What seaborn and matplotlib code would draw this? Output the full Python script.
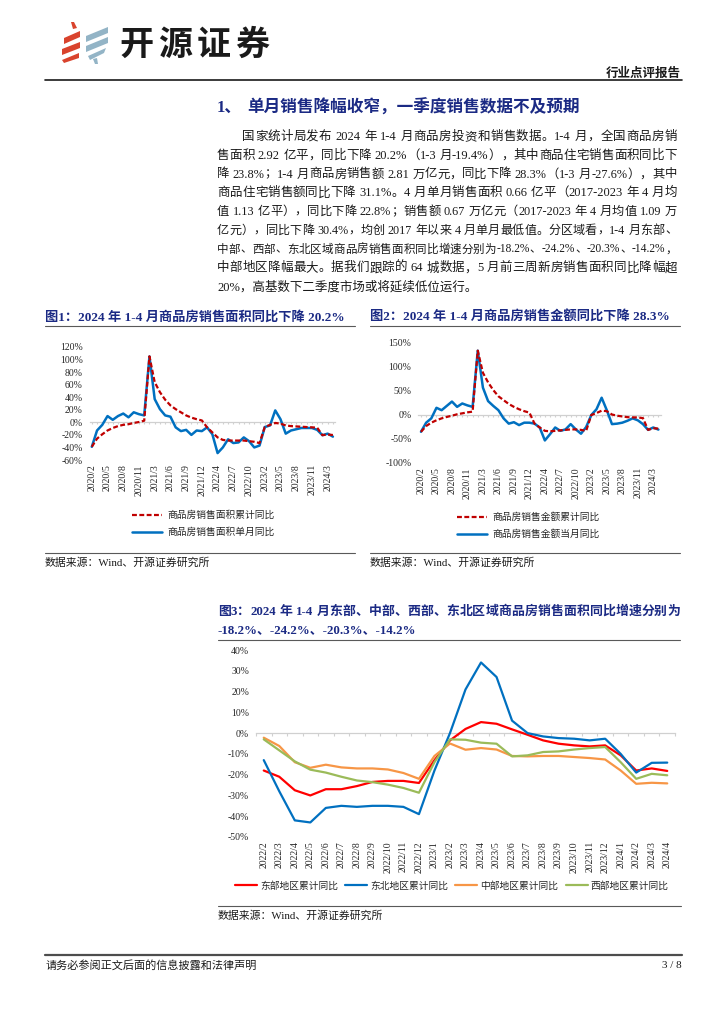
import re

import matplotlib
matplotlib.use("Agg")
import matplotlib.pyplot as plt
import seaborn as sns
from matplotlib.lines import Line2D
from matplotlib.patches import Polygon

W, H = 724, 1024

# ---------------- data ----------------
# fig 1 / fig 2: monthly, Feb-Dec each year (Jan merged into Feb)
months_a = [f"{y}/{m}" for y in (2020, 2021, 2022, 2023) for m in range(2, 13)] + ["2024/2", "2024/3", "2024/4"]

area_cum = [-39, -26, -19, -13, -9, -6, -4, -3, -1, 0.5, 2.6,
            105, 64, 48, 36, 27, 21, 16, 11, 7.5, 5, 3,
            -8, -16, -24, -28, -29, -29, -29, -29, -30, -31, -33,
            -7.5, -4, -1, -2, -5, -6, -6.5, -7, -7.5, -8, -8.5,
            -20.5, -19.4, -20.2]
area_month = [-39, -13, -4, 10, 4, 10, 14, 8, 16, 13, 11,
              105, 37, 21, 11, 9, -8, -14, -12, -20, -13, -14,
              -8, -19, -49, -40, -27, -33, -32, -24, -30, -40, -37,
              -7.5, -5, 19, 5, -18, -13, -11, -9, -9, -9, -12,
              -20.5, -18, -22.8]

amount_cum = [-35, -23, -16, -11, -7, -4, -1.5, 1.5, 3.5, 5.5, 7,
              134, 88, 68, 52, 39, 31, 23, 17, 12, 8, 5,
              -18, -26, -33, -34, -33, -32, -31, -30, -30, -31, -33,
              0, 4, 9, 8, 1, -1.5, -3, -4.5, -5, -5, -6.5,
              -31, -27.6, -28.3]
amount_month = [-35, -16, -7, 15, 10, 19, 28, 17, 24, 20, 17,
                134, 57, 29, 19, 10, -7, -18, -15, -21, -16, -16,
                -18, -26, -53, -40, -26, -33, -30, -19, -30, -39, -25,
                0, 12, 36, 10, -19, -18, -16, -12, -7, -11, -19,
                -31, -26, -30.4]

area_yticks = [-60, -40, -20, 0, 20, 40, 60, 80, 100, 120]
amount_yticks = [-100, -50, 0, 50, 100, 150]

# fig 3: regional cumulative YoY, 2022/2 - 2024/4
months_b = ([f"2022/{m}" for m in range(2, 13)] + [f"2023/{m}" for m in range(1, 13)]
            + [f"2024/{m}" for m in range(1, 5)])
east = [-18, -21, -27.5, -30, -27, -27, -25.5, -23.5, -23, -23, -24,
        -13, -3.5, 2, 5.3, 4.5, 1.8, -0.8, -3.5, -5.1, -5.9, -6.4, -5.9,
        -10.7, -18, -17, -18.2]
northeast = [-13, -28, -42, -43, -36, -35, -35.5, -35, -35, -35.5, -39,
             -18, 0, 21, 34, 27, 6, 0, -1.6, -2.4, -2.7, -3.5, -2.7,
             -10, -19, -14.3, -14.2]
central = [-2.2, -6.2, -14, -16.7, -15.2, -16.5, -17, -17, -17.5, -19.2, -22,
           -11, -5, -8, -7.2, -7.9, -11, -11.2, -11, -11, -11.5, -12, -12.7,
           -18, -24.4, -23.9, -24.2]
west = [-3, -8.3, -13.6, -17.6, -19, -21, -22.8, -23.6, -24.8, -26.4, -28.7,
        -14, -3, -3.2, -4.6, -5.1, -11.2, -10.7, -9.1, -8.8, -7.9, -7.2, -6.7,
        -14, -22, -19.6, -20.3]
region_yticks = [-50, -40, -30, -20, -10, 0, 10, 20, 30, 40]

# ---------------- text ----------------
heading_no = "1、"
heading = "单月销售降幅收窄，一季度销售数据不及预期"
para = [
    "国家统计局发布 2024 年 1-4 月商品房投资和销售数据。1-4 月，全国商品房销",
    "售面积 2.92 亿平，同比下降 20.2%（1-3 月-19.4%），其中商品住宅销售面积同比下",
    "降 23.8%；1-4 月商品房销售额 2.81 万亿元，同比下降 28.3%（1-3 月-27.6%），其中",
    "商品住宅销售额同比下降 31.1%。4 月单月销售面积 0.66 亿平（2017-2023 年 4 月均",
    "值 1.13 亿平），同比下降 22.8%；销售额 0.67 万亿元（2017-2023 年 4 月均值 1.09 万",
    "亿元），同比下降 30.4%，均创 2017 年以来 4 月单月最低值。分区域看，1-4 月东部、",
    "中部、西部、东北区域商品房销售面积同比增速分别为-18.2%、-24.2%、-20.3%、-14.2%，",
    "中部地区降幅最大。据我们跟踪的 64 城数据，5 月前三周新房销售面积同比降幅超",
    "20%，高基数下二季度市场或将延续低位运行。",
]
source = "数据来源：Wind、开源证券研究所"

NAVY = "#1b2a84"
FAM = ["Liberation Serif", "Noto Sans CJK SC", "DejaVu Sans"]
SANS = ["Noto Sans CJK SC", "DejaVu Sans"]

sns.set_style("white")
plt.rcParams["font.family"] = FAM
plt.rcParams["axes.unicode_minus"] = False


def fx(x):
    return x / W


def fy(y):
    return 1 - y / H


def hline(fig, x0, x1, y, color="#595959", lw=0.8):
    fig.add_artist(Line2D([fx(x0), fx(x1)], [fy(y), fy(y)], transform=fig.transFigure, color=color, lw=lw))


def put(fig, x, y, s, size, **kw):
    return fig.text(fx(x), fy(y), s, fontsize=size, va="center", **kw)


def justify(fig, s, x0, x1, y, size, **kw):
    """Place a line of text spread evenly between x0 and x1 (shrinks if too long)."""
    renderer = fig.canvas.get_renderer()
    tokens = re.findall(r"[0-9A-Za-z.%/\-]+|.", s)
    arts = [fig.text(0, fy(y), t, fontsize=size, va="center", **kw) for t in tokens]
    widths = [a.get_window_extent(renderer).width for a in arts]
    if sum(widths) > x1 - x0:
        size = size * (x1 - x0) / sum(widths) * 0.995
        for art in arts:
            art.set_fontsize(size)
        widths = [a.get_window_extent(renderer).width for a in arts]
    gap = (x1 - x0 - sum(widths)) / (len(tokens) - 1)
    x = x0
    for art, w in zip(arts, widths):
        art.set_x(fx(x))
        x += w + gap


def poly(fig, pts, color):
    fig.add_artist(Polygon([(fx(x), fy(y)) for x, y in pts], closed=True, transform=fig.transFigure,
                           facecolor=color, edgecolor="none"))


def style_axis(ax, ylim, yticks, xlim, xticks, xlabels, zero_ticks, tick_len):
    sns.despine(ax=ax, left=True, bottom=True)
    ax.set_xlim(xlim)
    ax.set_ylim(ylim)
    ax.set_yticks(yticks)
    ax.set_yticklabels([f"{v}%" for v in yticks])
    ax.set_xticks(xticks)
    ax.set_xticklabels(xlabels, rotation=90)
    ax.tick_params(axis="both", length=0, labelsize=7, colors="#262626")
    ax.tick_params(axis="y", pad=5)
    ax.tick_params(axis="x", pad=3)
    ax.set_xlabel("")
    ax.set_ylabel("")
    # zero line with small tick marks (axis crosses at 0, labels stay low)
    frac = (0 - ylim[0]) / (ylim[1] - ylim[0])
    sec = ax.secondary_xaxis(frac)
    sec.set_alignment("bottom")
    sec.set_xticks(zero_ticks)
    sec.tick_params(length=tick_len, width=0.8, color="#d0d0d0", direction="out",
                    labelbottom=False, labeltop=False)
    sec.spines["bottom"].set_color("#d0d0d0")
    sec.spines["bottom"].set_linewidth(0.9)
    sec.set_zorder(0)


fig = plt.figure(figsize=(W / 100, H / 100), dpi=100)
fig.patch.set_facecolor("white")

# ---------------- header ----------------
for pts in ([(71, 22), (74, 22), (77, 28), (73, 29)],
            [(64, 38), (80, 31), (80, 37), (64, 44)],
            [(62, 49), (80, 42), (80, 48), (62, 55)],
            [(62, 60), (79, 53), (79, 58), (64, 63)]):
    poly(fig, pts, "#d9432d")
for pts in ([(86, 36), (108, 27), (108, 33), (86, 42)],
            [(86, 46), (108, 37), (108, 43), (86, 52)],
            [(88, 56), (106, 48), (104, 53), (90, 60)],
            [(93, 59), (97, 58), (98, 64), (95, 64)]):
    poly(fig, pts, "#93b4c6")
justify(fig, "开源证券", 119, 269, 44, 24.5, family=SANS, fontweight="bold", color="#1a1a1a")
fig.text(fx(681), fy(73), "行业点评报告", fontsize=9, family=SANS, fontweight="bold",
         ha="right", va="center", color="#1a1a1a")
hline(fig, 45, 682, 80, color="#1a1a1a", lw=1.2)

# ---------------- section text ----------------
put(fig, 217, 108, heading_no, 12, fontweight="bold", color=NAVY)
put(fig, 247, 108, heading, 12, fontweight="bold", color=NAVY)
for i, line in enumerate(para):
    y = 137 + 18.75 * i
    x0 = 242 if i == 0 else 217
    if i < len(para) - 1:
        justify(fig, line, x0, 677, y, 9, color="#1a1a1a")
    else:
        put(fig, x0, y, line, 9, color="#1a1a1a")

# ---------------- figure 1 ----------------
put(fig, 45, 317, "图1：2024 年 1-4 月商品房销售面积同比下降 20.2%", 9.5, fontweight="bold", color=NAVY)
hline(fig, 45, 355, 326)
ax1 = fig.add_axes([fx(89.7), fy(460), 245.3 / W, 113 / H])
pos_a = list(range(len(months_a)))
sns.lineplot(x=pos_a, y=area_month, ax=ax1, color="#0070c0", lw=1.8, label="商品房销售面积单月同比")
sns.lineplot(x=pos_a, y=area_cum, ax=ax1, color="#c00000", lw=1.6, linestyle=(0, (2.2, 1.1)),
             label="商品房销售面积累计同比")
style_axis(ax1, (-60, 120), area_yticks, (-0.4, 46.4), pos_a[::3], months_a[::3], pos_a, 1.5)
h, l = ax1.get_legend_handles_labels()
ax1.legend(h[::-1], l[::-1], loc="center left", bbox_to_anchor=(fx(132), fy(524)),
           bbox_transform=fig.transFigure, frameon=False, fontsize=7, handlelength=3.1,
           handletextpad=0.5, labelspacing=0.75, borderpad=0, borderaxespad=0)
hline(fig, 45, 355, 553)
put(fig, 45, 563, source, 7.8, color="#1a1a1a")

# ---------------- figure 2 ----------------
put(fig, 370, 317, "图2：2024 年 1-4 月商品房销售金额同比下降 28.3%", 9.5, fontweight="bold", color=NAVY)
hline(fig, 370, 680, 326)
ax2 = fig.add_axes([fx(418.4), fy(463), 242.6 / W, 120 / H])
sns.lineplot(x=pos_a, y=amount_month, ax=ax2, color="#0070c0", lw=1.8, label="商品房销售金额当月同比")
sns.lineplot(x=pos_a, y=amount_cum, ax=ax2, color="#c00000", lw=1.6, linestyle=(0, (2.2, 1.1)),
             label="商品房销售金额累计同比")
style_axis(ax2, (-100, 150), amount_yticks, (-0.5, 46.5), pos_a[::3], months_a[::3], pos_a, 1.5)
h, l = ax2.get_legend_handles_labels()
ax2.legend(h[::-1], l[::-1], loc="center left", bbox_to_anchor=(fx(457), fy(526)),
           bbox_transform=fig.transFigure, frameon=False, fontsize=7, handlelength=3.1,
           handletextpad=0.5, labelspacing=0.75, borderpad=0, borderaxespad=0)
hline(fig, 370, 680, 553)
put(fig, 370, 563, source, 7.8, color="#1a1a1a")

# ---------------- figure 3 ----------------
justify(fig, "图3：2024 年 1-4 月东部、中部、西部、东北区域商品房销售面积同比增速分别为",
        218, 680, 612, 9.3, fontweight="bold", color=NAVY)
put(fig, 218, 630, "-18.2%、-24.2%、-20.3%、-14.2%", 9.3, fontweight="bold", color=NAVY)
hline(fig, 218, 680, 640)
ax3 = fig.add_axes([fx(256), fy(837), 419 / W, 187 / H])
pos_b = list(range(len(months_b)))
for series, color, name in ((east, "#ff0000", "东部地区累计同比"),
                            (northeast, "#0070c0", "东北地区累计同比"),
                            (central, "#f79646", "中部地区累计同比"),
                            (west, "#9bbb59", "西部地区累计同比")):
    sns.lineplot(x=pos_b, y=series, ax=ax3, color=color, lw=1.6, label=name)
style_axis(ax3, (-50, 40), region_yticks, (-0.5, len(months_b) - 0.5), pos_b, months_b,
           [p - 0.5 for p in range(len(months_b) + 1)], 1.8)
ax3.legend(loc="center left", bbox_to_anchor=(fx(235), fy(886)), bbox_transform=fig.transFigure,
           ncol=4, frameon=False, fontsize=7, handlelength=2.26, handletextpad=0.3,
           columnspacing=0.75, borderpad=0, borderaxespad=0)
hline(fig, 218, 681, 906)
put(fig, 218, 916, source, 7.8, color="#1a1a1a")

# ---------------- footer ----------------
hline(fig, 45, 682, 955, color="#4d4d4d", lw=1.6)
put(fig, 46, 965, "请务必参阅正文后面的信息披露和法律声明", 8, color="#1a1a1a")
fig.text(fx(682), fy(965), "3 / 8", fontsize=8, ha="right", va="center", color="#1a1a1a")

fig.savefig("out.png", dpi=100, facecolor="white")
